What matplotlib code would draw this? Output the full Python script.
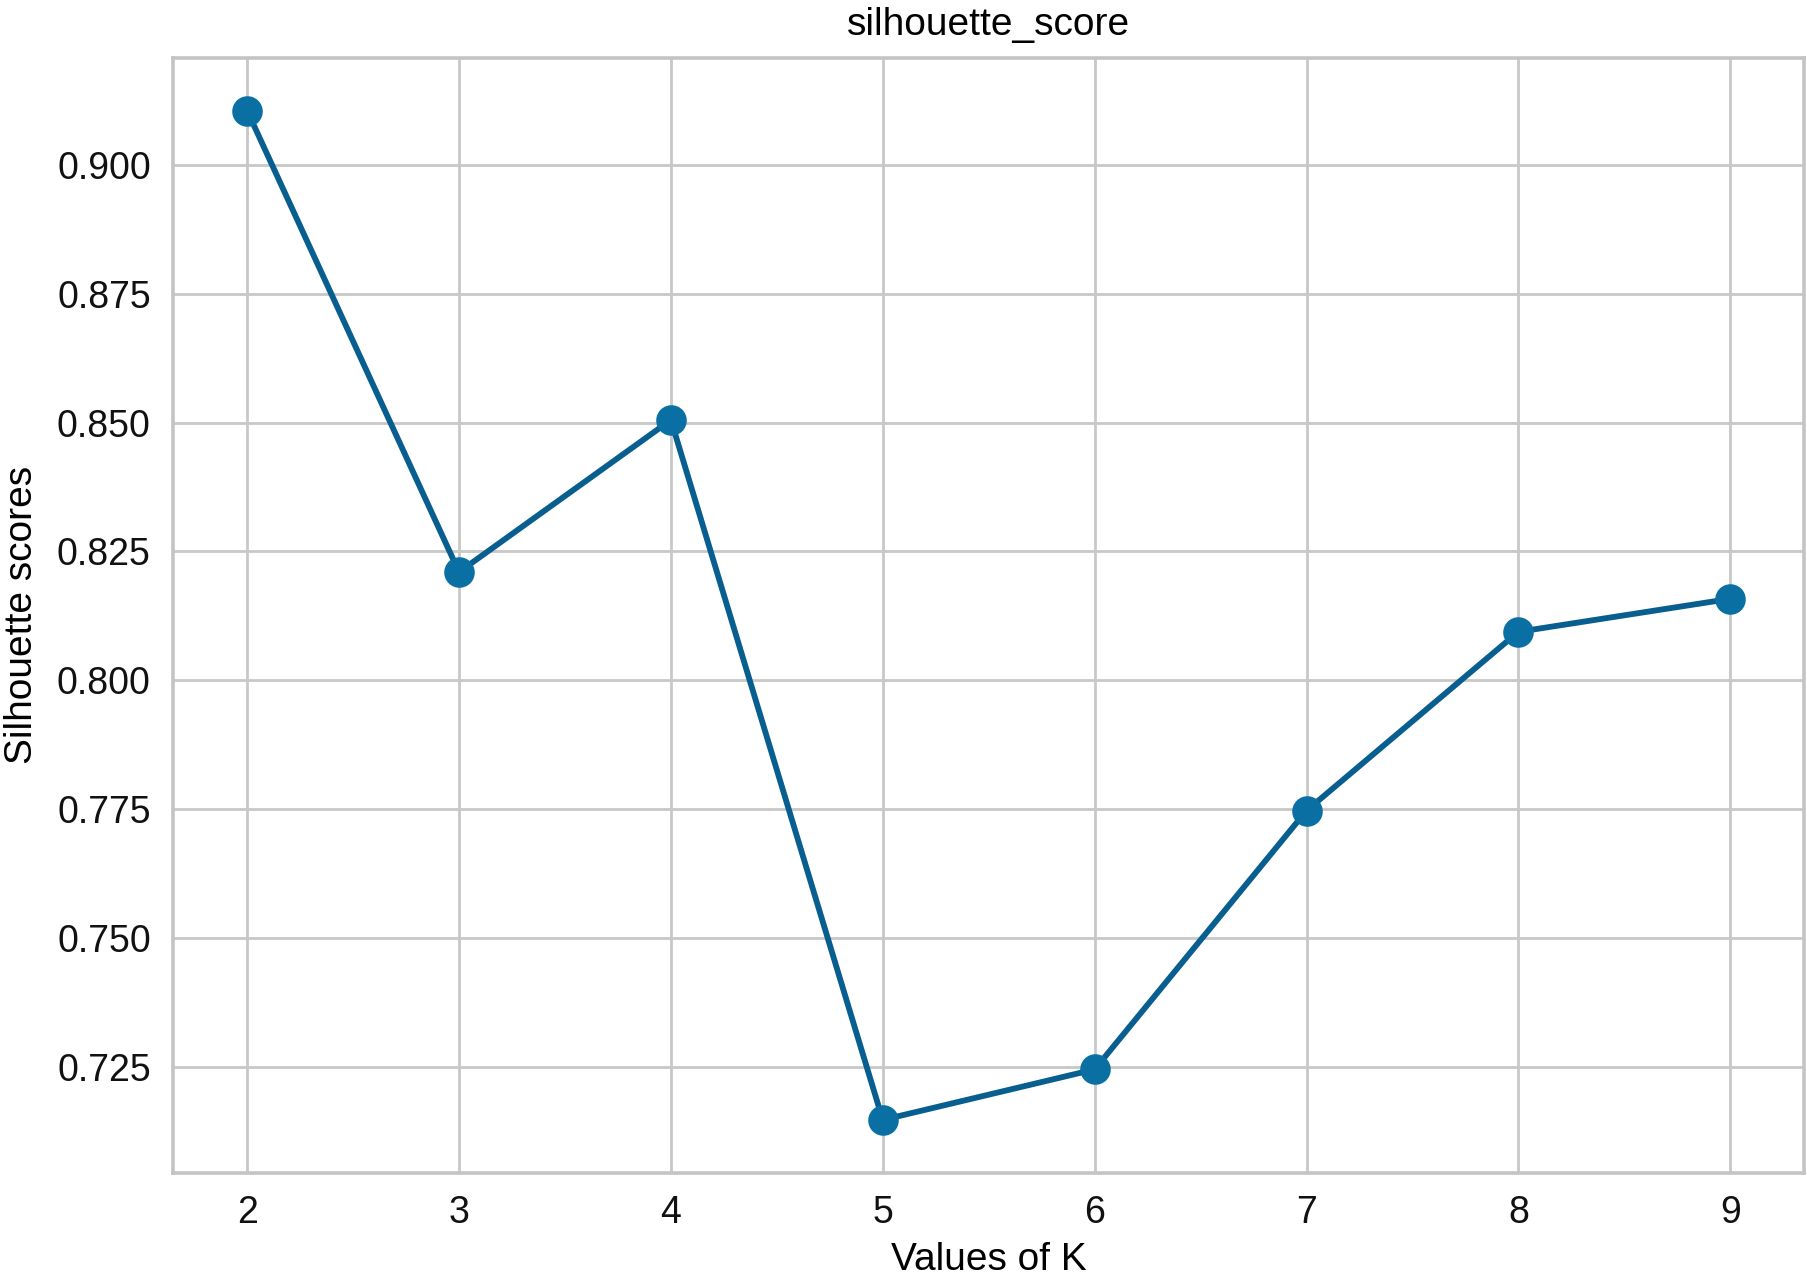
import matplotlib
matplotlib.use("Agg")
import matplotlib.pyplot as plt

k_values = [2, 3, 4, 5, 6, 7, 8, 9]
silhouette_scores = [0.9105, 0.8210, 0.8505, 0.7147, 0.7245, 0.7747, 0.8094, 0.8158]
y_ticks = [0.725, 0.750, 0.775, 0.800, 0.825, 0.850, 0.875, 0.900]

plt.rcParams['font.family'] = ['Liberation Sans', 'DejaVu Sans']

fig = plt.figure(figsize=(9.04, 6.405), dpi=200)
ax = fig.add_axes([0.0957, 0.0843, 0.9023, 0.8707])

color = '#085f8f'
ax.plot(k_values, silhouette_scores, color=color, linewidth=2.1,
        marker='o', markersize=10, markerfacecolor='#0a70a3', markeredgecolor='#0a70a3')

ax.set_xticks(k_values)
ax.set_yticks(y_ticks)
ax.set_yticklabels([f"{v:.3f}" for v in y_ticks])
ax.set_ylim(0.7044, 0.9208)

ax.grid(True, color='#c8c8c8', linewidth=1.0)
ax.set_axisbelow(True)
for s in ax.spines.values():
    s.set_color('#c4c4c4')
    s.set_linewidth(1.3)
ax.tick_params(axis='both', length=0, labelsize=13.5, pad=8, colors='#111111')

ax.set_title('silhouette_score', fontsize=14, pad=8)
ax.set_xlabel('Values of K', fontsize=14, labelpad=4)
ax.set_ylabel('Silhouette scores', fontsize=14, labelpad=6)

fig.savefig('out.png', dpi=200, facecolor='white')
